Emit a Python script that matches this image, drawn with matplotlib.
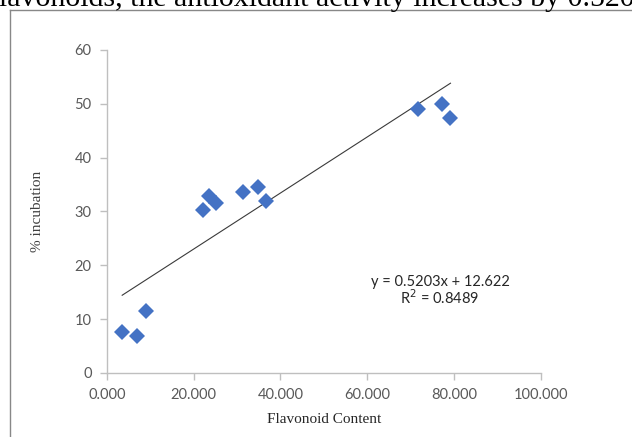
import matplotlib
matplotlib.use('Agg')
import matplotlib.pyplot as plt
from matplotlib.lines import Line2D

# flavonoid content vs % incubation
flavonoid = [3.5, 6.9, 9.0, 22.1, 23.5, 25.1, 31.4, 34.8, 36.7, 71.8, 77.3, 79.2]
incubation = [7.6, 6.9, 11.5, 30.3, 32.9, 31.6, 33.6, 34.6, 32.0, 49.0, 50.0, 47.3]
slope = 0.5203
intercept = 12.622
r2 = 0.8489

x_ticks = [0, 20, 40, 60, 80, 100]
y_ticks = [0, 10, 20, 30, 40, 50, 60]

fig = plt.figure(figsize=(6.32, 4.37), dpi=100)
ax = fig.add_axes([0.1693, 0.1465, 0.6862, 0.7391])

ax.plot(flavonoid, incubation, 'D', color='#4472C4', ms=8, mew=0, zorder=3)

xs = [min(flavonoid), max(flavonoid)]
ax.plot(xs, [slope * v + intercept for v in xs], color='#3a3a3a', lw=0.8, zorder=2)

ax.set_xlim(0, 100)
ax.set_ylim(0, 60)
ax.set_xticks(x_ticks)
ax.set_yticks(y_ticks)
ax.set_xticklabels(['%.3f' % v for v in x_ticks])
ax.set_yticklabels([str(v) for v in y_ticks])

for s in ['top', 'right']:
    ax.spines[s].set_visible(False)
for s in ['left', 'bottom']:
    ax.spines[s].set_color('#BFBFBF')
    ax.spines[s].set_linewidth(1)
ax.tick_params(direction='out', length=5, width=1, color='#BFBFBF',
               labelcolor='#595959', labelsize=10.5, pad=6)
for lab in ax.get_xticklabels() + ax.get_yticklabels():
    lab.set_family('Lato')

ax.set_xlabel('Flavonoid Content', family='Liberation Serif', fontsize=11,
              color='#262626', labelpad=8)
ax.set_ylabel('% incubation', family='Liberation Serif', fontsize=11,
              color='#404040', labelpad=22)

ax.text(0.768, 0.282, 'y = 0.5203x + 12.622', transform=ax.transAxes,
        ha='center', va='center', family='Lato', fontsize=10.5, color='#262626')
ax.text(0.768, 0.232, 'R$^2$ = %.4f' % r2, transform=ax.transAxes,
        ha='center', va='center', family='Lato', fontsize=10.5, color='#262626')

# chart frame (left and top edges only visible)
fig.add_artist(Line2D([10 / 632, 10 / 632], [0, 1 - 10 / 437], color='#888888',
                      lw=1, transform=fig.transFigure))
fig.add_artist(Line2D([10 / 632, 1], [1 - 10 / 437, 1 - 10 / 437], color='#888888',
                      lw=1, transform=fig.transFigure))

# page text cut off above the chart
fig.text(-11 / 632, 1 - 6 / 437, 'flavonoids, the antioxidant activity increases by 0.5203',
         family='Liberation Serif', fontsize=21.5, color='black', va='baseline', ha='left')

fig.savefig('out.png', dpi=100)
